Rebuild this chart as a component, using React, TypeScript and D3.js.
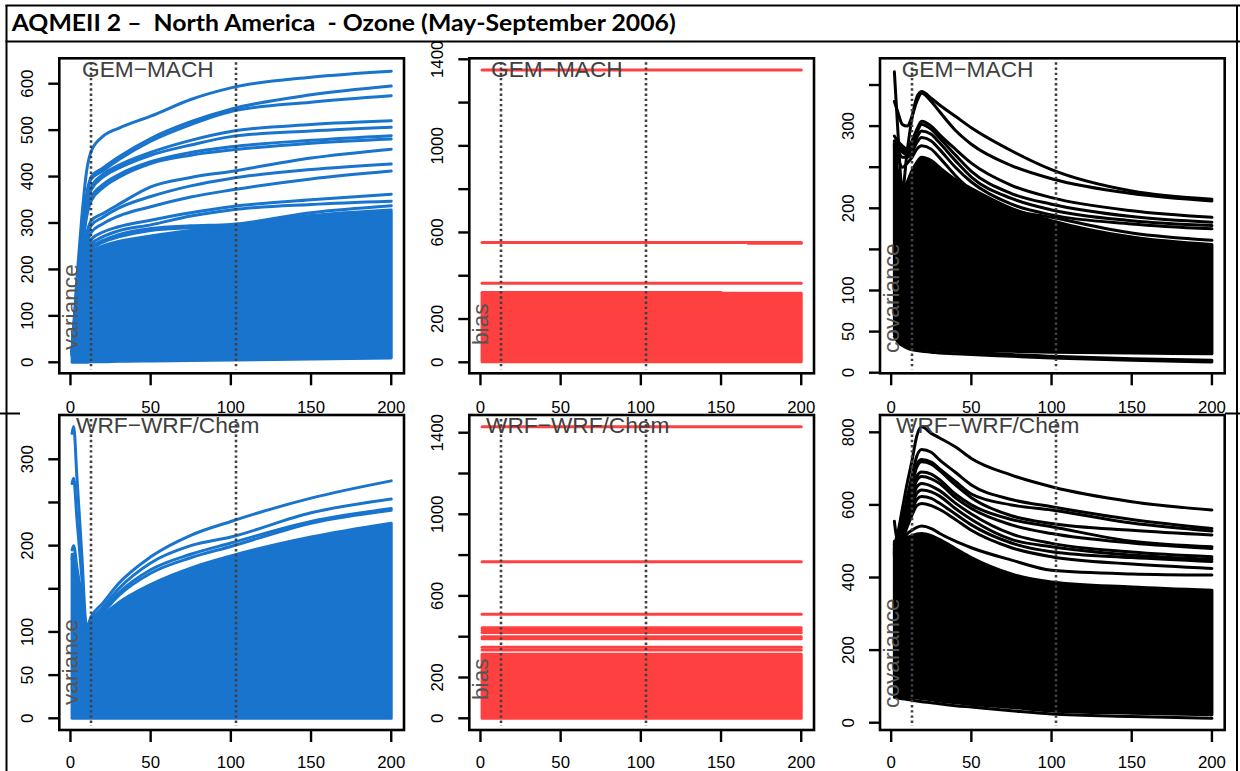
import React from "react";
import * as d3 from "d3";

// ---------- text ----------
const TITLE = "AQMEII 2 \u2013  North America  - Ozone (May-September 2006)";
const MODEL_TOP = "GEM\u2212MACH";
const MODEL_BOTTOM = "WRF\u2212WRF/Chem";

// ---------- shared axis data ----------
const X_TICKS = [0, 50, 100, 150, 200];
const REF_LINES_X = [13, 103];
const BIAS_X = [1, 200];

// ---------- GEM-MACH variance (top-left) ----------
const GEM_VAR_X = [1, 4, 7, 10, 13, 20, 30, 50, 75, 100, 150, 200];
const GEM_VAR_LINES = [
  [28, 180, 310, 410, 455, 486, 504, 530, 566, 591, 614, 627],
  [25, 160, 275, 360, 400, 418, 442, 482, 518, 545, 576, 595],
  [25, 158, 270, 355, 395, 412, 436, 476, 512, 540, 560, 574],
  [24, 150, 258, 340, 378, 404, 424, 452, 478, 497, 512, 520],
  [23, 148, 252, 335, 372, 398, 418, 446, 468, 486, 498, 506],
  [22, 140, 240, 318, 355, 382, 404, 432, 452, 464, 478, 488],
  [22, 138, 236, 312, 348, 375, 398, 428, 446, 457, 472, 481],
  [20, 120, 205, 275, 305, 320, 340, 378, 398, 411, 440, 459],
  [19, 115, 198, 265, 295, 312, 332, 357, 380, 396, 415, 427],
  [18, 110, 190, 250, 280, 298, 315, 335, 356, 371, 395, 412],
  [17, 105, 180, 238, 265, 280, 292, 306, 322, 335, 350, 362],
  [16, 100, 172, 228, 255, 270, 283, 296, 315, 328, 340, 347],
  [16, 98, 168, 222, 248, 262, 275, 288, 294, 297, 322, 337],
  [15, 96, 165, 218, 243, 258, 270, 284, 290, 294, 316, 328],
];
const GEM_VAR_BAND_TOP = [14, 95, 160, 212, 238, 250, 260, 272, 284, 294, 312, 324];
const GEM_VAR_BAND_BOTTOM = [0, 0, 0, 0, 1, 1, 2, 3, 4, 5, 7, 9];

// ---------- GEM-MACH bias (top-middle) ----------
const GEM_BIAS_LEVELS = [1350, 554, 365];
const GEM_BIAS_BAND = [3, 319];
const GEM_BIAS_PART_X = [[1, 150], [167, 200]];
const GEM_BIAS_PART_Y = [[323, 323], [550, 550]];

// ---------- GEM-MACH covariance (top-right) ----------
const COV_X = [2, 4, 7, 10, 13, 16, 19, 25, 30, 40, 50, 75, 100, 150, 200];
const GEM_COV_LINES = [
  [366, 300, 222, 270, 310, 335, 342, 334, 326, 312, 298, 270, 247, 221, 211],
  [330, 318, 302, 300, 312, 330, 340, 330, 318, 295, 278, 252, 236, 218, 209],
  [288, 282, 276, 272, 282, 296, 306, 300, 290, 272, 255, 228, 213, 197, 189],
  [282, 278, 272, 268, 276, 292, 302, 296, 286, 265, 245, 218, 205, 190, 183],
  [278, 274, 268, 265, 272, 286, 294, 290, 280, 258, 238, 212, 198, 185, 179],
  [275, 270, 262, 262, 268, 280, 286, 282, 272, 250, 232, 205, 192, 181, 175],
  [272, 262, 250, 255, 262, 272, 276, 272, 262, 240, 222, 198, 189, 170, 161],
  [44, 38, 33, 30, 28, 27, 26, 25, 24, 23, 22, 20, 18, 15, 13],
  [47, 41, 36, 33, 31, 30, 29, 28, 27, 26, 25, 22, 20, 17, 15],
];
const GEM_COV_BAND_TOP = [280, 245, 221, 232, 246, 256, 262, 258, 250, 235, 224, 200, 185, 165, 156];
const GEM_COV_BAND_BOTTOM = [48, 42, 37, 34, 32, 31, 30, 30, 29, 28, 27, 26, 25, 24, 23];

// ---------- WRF-WRF/Chem variance (bottom-left) ----------
const WRF_VAR_X = [1, 2, 4, 7, 10, 13, 20, 30, 50, 75, 100, 150, 200];
const WRF_VAR_LINES = [
  [330, 338, 280, 192, 106, 118, 133, 156, 187, 212, 228, 255, 275],
  [272, 278, 232, 165, 104, 114, 128, 150, 180, 200, 210, 238, 254],
  [195, 200, 175, 140, 103, 112, 124, 145, 172, 190, 203, 228, 243],
  [185, 190, 170, 135, 102, 110, 122, 142, 168, 186, 199, 226, 241],
];
const WRF_VAR_BAND_TOP = [190, 190, 165, 130, 101, 107, 119, 134, 155, 174, 188, 210, 226];
const WRF_VAR_BAND_BOTTOM = [0, 0, 0, 0, 0, 0, 0, 0, 0, 0, 0, 0, 0];

// ---------- WRF-WRF/Chem bias (bottom-middle) ----------
const WRF_BIAS_LEVELS = [1429, 767, 510, 444, 433, 421, 400, 390, 348, 335];
const WRF_BIAS_BAND = [0, 314];

// ---------- WRF-WRF/Chem covariance (bottom-right) ----------
const WRF_COV_LINES = [
  [490, 520, 590, 660, 722, 790, 815, 797, 785, 760, 728, 682, 650, 609, 586],
  [555, 505, 560, 620, 680, 735, 753, 745, 725, 690, 655, 615, 595, 560, 535],
  [480, 500, 550, 605, 660, 712, 725, 718, 700, 665, 630, 600, 586, 550, 528],
  [478, 498, 545, 600, 652, 705, 719, 712, 695, 655, 620, 570, 549, 530, 517],
  [475, 495, 535, 585, 635, 680, 691, 685, 670, 630, 600, 560, 540, 500, 485],
  [472, 492, 530, 575, 625, 668, 678, 672, 660, 620, 590, 545, 521, 495, 480],
  [470, 490, 520, 565, 610, 650, 659, 652, 640, 605, 575, 520, 494, 470, 457],
  [468, 488, 515, 555, 598, 632, 641, 636, 625, 590, 560, 505, 485, 462, 450],
  [465, 485, 510, 548, 585, 615, 623, 618, 605, 575, 545, 495, 471, 455, 444],
  [462, 482, 505, 540, 572, 598, 604, 598, 588, 560, 530, 482, 457, 437, 425],
  [460, 480, 500, 520, 530, 538, 542, 535, 522, 500, 482, 448, 420, 410, 407],
  [70, 68, 66, 64, 62, 60, 58, 55, 52, 47, 43, 33, 24, 17, 12],
];
const WRF_COV_BAND_TOP = [500, 500, 505, 510, 515, 520, 521, 515, 505, 480, 455, 410, 388, 374, 365];
const WRF_COV_BAND_BOTTOM = [74, 73, 72, 71, 70, 68, 66, 63, 60, 55, 50, 42, 32, 26, 22];

// ---------- y-axis ticks ----------
const TL_TICKS = [0, 100, 200, 300, 400, 500, 600];
const TL_LABELS = [0, 100, 200, 300, 400, 500, 600];
const BIAS_TICKS = [0, 200, 400, 600, 800, 1000, 1200, 1400];
const BIAS_LABELS = [0, 200, 600, 1000, 1400];
const TR_TICKS = [0, 50, 100, 150, 200, 250, 300, 350];
const TR_LABELS = [0, 50, 100, 200, 300];
const BL_TICKS = [0, 50, 100, 150, 200, 250, 300];
const BL_LABELS = [0, 50, 100, 200, 300];
const BR_TICKS = [0, 200, 400, 600, 800];
const BR_LABELS = [0, 200, 400, 600, 800];

const BLUE = "#1874CD";
const RED = "#FF4040";
const BLACK = "#000000";
const FONT = "'Liberation Sans', Arial, Helvetica, sans-serif";

type Series = { xs: number[]; ys: number[] };
type Band = { xs: number[]; top: number[]; bottom: number[] };
type PanelCfg = {
  id: string;
  x0: number; x1: number; y0: number; y1: number;
  yDomain: [number, number];
  yTicks: number[]; yLabels: number[];
  color: string;
  band: Band;
  series: Series[];
  model: string; modelX: number;
  ylab: string; ylabY: number;
  xLabOffset: number;
};

const rep = (v: number) => [v, v];

function Panel({ p }: { p: PanelCfg }) {
  const x = d3.scaleLinear().domain([-6.96, 207.96]).range([p.x0, p.x1]);
  const y = d3.scaleLinear().domain(p.yDomain).range([p.y1, p.y0]);
  const line = d3.line<number>().curve(d3.curveMonotoneX);
  const area = d3.area<number>().x((d) => x(d)).curve(d3.curveMonotoneX);
  const b = p.band;
  const bandPath = area
    .y0((_, i) => y(b.bottom[i]))
    .y1((_, i) => y(b.top[i]))(b.xs) as string;
  return (
    <g>
      <defs>
        <clipPath id={p.id}>
          <rect x={p.x0} y={p.y0} width={p.x1 - p.x0} height={p.y1 - p.y0} />
        </clipPath>
      </defs>
      <g clipPath={`url(#${p.id})`}>
        <path d={bandPath} fill={p.color} stroke={p.color} strokeWidth={3} strokeLinejoin="round" />
        {p.series.map((s, k) => (
          <path
            key={k}
            d={line.x((_, i) => x(s.xs[i])).y((d) => y(d))(s.ys) as string}
            fill="none"
            stroke={p.color}
            strokeWidth={3}
            strokeLinejoin="round"
            strokeLinecap="round"
          />
        ))}
        {REF_LINES_X.map((v) => (
          <line
            key={v}
            x1={Math.round(x(v))} x2={Math.round(x(v))} y1={p.y0 + 4} y2={p.y1 - 4}
            stroke="#404040" strokeWidth={2.6} strokeDasharray="2.4 2.8"
          />
        ))}
      </g>
      <rect x={p.x0} y={p.y0} width={p.x1 - p.x0} height={p.y1 - p.y0} fill="none" stroke="#000" strokeWidth={2.6} />
      {X_TICKS.map((t) => (
        <g key={t}>
          <line x1={x(t)} x2={x(t)} y1={p.y1} y2={p.y1 + 12} stroke="#000" strokeWidth={2.4} />
          <text x={x(t)} y={p.y1 + p.xLabOffset} textAnchor="middle" fontSize={16.8} fontFamily={FONT} fill="#000">{t}</text>
        </g>
      ))}
      {p.yTicks.map((t) => (
        <line key={t} x1={p.x0} x2={p.x0 - 11} y1={y(t)} y2={y(t)} stroke="#000" strokeWidth={2.4} />
      ))}
      {p.yLabels.map((t) => (
        <text
          key={t}
          transform={`translate(${p.x0 - 26},${y(t)}) rotate(-90)`}
          textAnchor="middle" fontSize={16.8} fontFamily={FONT} fill="#000"
        >{t}</text>
      ))}
      <text x={p.modelX} y={p.y0 + 18.3} fontSize={22.7} fontFamily={FONT} fill="#404040">{p.model}</text>
      <text
        transform={`translate(${p.x0 + 19},${p.ylabY}) rotate(-90)`}
        fontSize={22.7} fontFamily={FONT} fill="#555555"
      >{p.ylab}</text>
    </g>
  );
}

const TOP = { y0: 58.3, y1: 373.3, xLabOffset: 39.5 };
const BOT = { y0: 415, y1: 730, xLabOffset: 38 };
const COLS = [
  { x0: 59.3, x1: 404 },
  { x0: 469.3, x1: 814 },
  { x0: 880, x1: 1224.7 },
];

export default function App() {
  const panels: PanelCfg[] = [
    {
      id: "c1", ...COLS[0], ...TOP, yDomain: [-23.7, 654.7], yTicks: TL_TICKS, yLabels: TL_LABELS, color: BLUE,
      band: { xs: GEM_VAR_X, top: GEM_VAR_BAND_TOP, bottom: GEM_VAR_BAND_BOTTOM },
      series: GEM_VAR_LINES.map((ys) => ({ xs: GEM_VAR_X, ys })),
      model: MODEL_TOP, modelX: 82, ylab: "variance", ylabY: 350,
    },
    {
      id: "c2", ...COLS[1], ...TOP, yDomain: [-50.8, 1404.6], yTicks: BIAS_TICKS, yLabels: BIAS_LABELS, color: RED,
      band: { xs: BIAS_X, top: rep(GEM_BIAS_BAND[1]), bottom: rep(GEM_BIAS_BAND[0]) },
      series: [
        ...GEM_BIAS_LEVELS.map((v) => ({ xs: BIAS_X, ys: rep(v) })),
        ...GEM_BIAS_PART_X.map((xs, i) => ({ xs, ys: GEM_BIAS_PART_Y[i] })),
      ],
      model: MODEL_TOP, modelX: 491, ylab: "bias", ylabY: 345,
    },
    {
      id: "c3", ...COLS[2], ...TOP, yDomain: [-0.73, 382.5], yTicks: TR_TICKS, yLabels: TR_LABELS, color: BLACK,
      band: { xs: COV_X, top: GEM_COV_BAND_TOP, bottom: GEM_COV_BAND_BOTTOM },
      series: GEM_COV_LINES.map((ys) => ({ xs: COV_X, ys })),
      model: MODEL_TOP, modelX: 901.7, ylab: "covariance", ylabY: 353,
    },
    {
      id: "c4", ...COLS[0], ...BOT, yDomain: [-13.55, 351.3], yTicks: BL_TICKS, yLabels: BL_LABELS, color: BLUE,
      band: { xs: WRF_VAR_X, top: WRF_VAR_BAND_TOP, bottom: WRF_VAR_BAND_BOTTOM },
      series: WRF_VAR_LINES.map((ys) => ({ xs: WRF_VAR_X, ys })),
      model: MODEL_BOTTOM, modelX: 76, ylab: "variance", ylabY: 705,
    },
    {
      id: "c5", ...COLS[1], ...BOT, yDomain: [-57.4, 1486.8], yTicks: BIAS_TICKS, yLabels: BIAS_LABELS, color: RED,
      band: { xs: BIAS_X, top: rep(WRF_BIAS_BAND[1]), bottom: rep(WRF_BIAS_BAND[0]) },
      series: WRF_BIAS_LEVELS.map((v) => ({ xs: BIAS_X, ys: rep(v) })),
      model: MODEL_BOTTOM, modelX: 486, ylab: "bias", ylabY: 700,
    },
    {
      id: "c6", ...COLS[2], ...BOT, yDomain: [-20.1, 847.7], yTicks: BR_TICKS, yLabels: BR_LABELS, color: BLACK,
      band: { xs: COV_X, top: WRF_COV_BAND_TOP, bottom: WRF_COV_BAND_BOTTOM },
      series: WRF_COV_LINES.map((ys) => ({ xs: COV_X, ys })),
      model: MODEL_BOTTOM, modelX: 896, ylab: "covariance", ylabY: 708,
    },
  ];
  return (
    <svg
      width={1240}
      height={771}
      viewBox="0 0 1240 771"
      style={{ position: "absolute", left: 0, top: 0, background: "#fff" }}
    >
      <rect x={0} y={0} width={1240} height={771} fill="#fff" />
      {panels.map((p) => <Panel key={p.id} p={p} />)}
      {/* frame */}
      <line x1={5.5} x2={1240} y1={5.5} y2={5.5} stroke="#000" strokeWidth={2} />
      <line x1={5.5} x2={1240} y1={41.5} y2={41.5} stroke="#000" strokeWidth={2} />
      <line x1={6.5} x2={6.5} y1={5} y2={771} stroke="#000" strokeWidth={2} />
      <line x1={1237} x2={1237} y1={5} y2={771} stroke="#000" strokeWidth={2} />
      <line x1={0} x2={20} y1={413.5} y2={413.5} stroke="#000" strokeWidth={2} />
      <line x1={1225} x2={1240} y1={413.5} y2={413.5} stroke="#000" strokeWidth={2} />
      <text
        x={11.7} y={31} fontFamily="Lato, 'Open Sans', sans-serif" fontWeight={700} fontSize={22}
        textLength={664} lengthAdjust="spacingAndGlyphs" fill="#000" style={{ whiteSpace: "pre" }}
      >{TITLE}</text>
    </svg>
  );
}
